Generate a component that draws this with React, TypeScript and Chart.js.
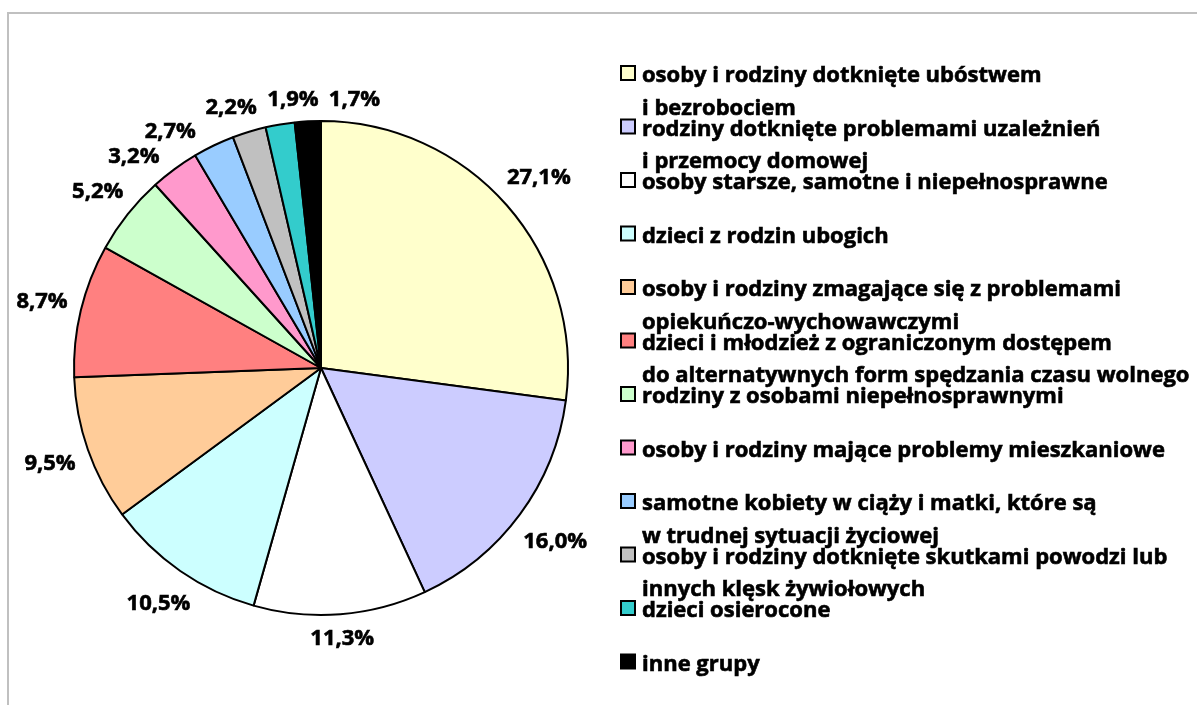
import React, { useEffect, useRef } from "react";
import { Chart, registerables } from "chart.js";

Chart.register(...registerables);

// ---- data ----
const categories: string[][] = [
  ["osoby i rodziny dotknięte ubóstwem", "i bezrobociem"],
  ["rodziny dotknięte problemami uzależnień", "i przemocy domowej"],
  ["osoby starsze, samotne i niepełnosprawne"],
  ["dzieci z rodzin ubogich"],
  ["osoby i rodziny zmagające się z problemami", "opiekuńczo-wychowawczymi"],
  ["dzieci i młodzież z ograniczonym dostępem", "do alternatywnych form spędzania czasu wolnego"],
  ["rodziny z osobami niepełnosprawnymi"],
  ["osoby i rodziny mające problemy mieszkaniowe"],
  ["samotne kobiety w ciąży i matki, które są", "w trudnej sytuacji życiowej"],
  ["osoby i rodziny dotknięte skutkami powodzi lub", "innych klęsk żywiołowych"],
  ["dzieci osierocone"],
  ["inne grupy"],
];
const shares: number[] = [27.1, 16.0, 11.3, 10.5, 9.5, 8.7, 5.2, 3.2, 2.7, 2.2, 1.9, 1.7];
const colors: string[] = [
  "#FFFFCC", "#CCCCFF", "#FFFFFF", "#CCFFFF", "#FFCC99", "#FF8080",
  "#CCFFCC", "#FF99CC", "#99CCFF", "#C0C0C0", "#33CCCC", "#000000",
];

// ---- styles ----
const FONT_FAMILY = "'Open Sans', Lato, sans-serif";
const LABEL_FONT = `bold 22px ${FONT_FAMILY}`;
const LEGEND_FONT = `bold 22px ${FONT_FAMILY}`;
const LABEL_PAD = 13;
const TEXT_STROKE = 0.6;

const fmt = (v: number) => v.toFixed(1).replace(".", ",") + "%";

const boldText = (ctx: CanvasRenderingContext2D, s: string, x: number, y: number) => {
  ctx.fillText(s, x, y);
  ctx.strokeText(s, x, y);
};

const framePlugin = {
  id: "frame",
  beforeDraw(chart: any) {
    const { ctx, width, height } = chart;
    ctx.save();
    ctx.fillStyle = "#FFFFFF";
    ctx.fillRect(0, 0, width, height);
    ctx.strokeStyle = "#C0C0C0";
    ctx.lineWidth = 2;
    ctx.strokeRect(8, 13, width + 50, height + 50);
    ctx.restore();
  },
};

const outsideLabels = {
  id: "outsideLabels",
  afterDatasetsDraw(chart: any) {
    const ctx = chart.ctx;
    const meta = chart.getDatasetMeta(0);
    ctx.save();
    ctx.font = LABEL_FONT;
    const items = meta.data.map((arc: any, i: number) => {
      const p = arc.getProps(["x", "y", "startAngle", "endAngle", "outerRadius"], true);
      const text = fmt(shares[i]);
      const w = ctx.measureText(text).width;
      return { text, w, h: 17, a: (p.startAngle + p.endAngle) / 2, cx: p.x, cy: p.y, r: p.outerRadius };
    });
    const pos = (it: any) => {
      const dx = Math.cos(it.a);
      const dy = Math.sin(it.a);
      const d = it.r + LABEL_PAD + (Math.abs(dx) * it.w) / 2 + (Math.abs(dy) * it.h) / 2;
      return { x: it.cx + dx * d, y: it.cy + dy * d };
    };
    const rel = (a: number) => {
      let r = a + Math.PI / 2;
      while (r > Math.PI) r -= 2 * Math.PI;
      while (r <= -Math.PI) r += 2 * Math.PI;
      return r;
    };
    const order = items.map((_: any, i: number) => i).sort((i: number, j: number) => rel(items[i].a) - rel(items[j].a));
    for (let iter = 0; iter < 400; iter++) {
      let moved = false;
      for (let k = 0; k < order.length - 1; k++) {
        const A = items[order[k]];
        const B = items[order[k + 1]];
        const pa = pos(A);
        const pb = pos(B);
        const ox = Math.abs(pa.x - pb.x) < (A.w + B.w) / 2 + 10;
        const oy = Math.abs(pa.y - pb.y) < 24;
        if (ox && oy) {
          A.a -= 0.003;
          B.a += 0.003;
          moved = true;
        }
      }
      if (!moved) break;
    }
    ctx.fillStyle = "#000000";
    ctx.strokeStyle = "#000000";
    ctx.lineWidth = TEXT_STROKE;
    ctx.textAlign = "center";
    ctx.textBaseline = "middle";
    items.forEach((it: any) => {
      const p = pos(it);
      boldText(ctx, it.text, p.x, p.y + 1);
    });
    ctx.restore();
  },
};

const legendPlugin = {
  id: "customLegend",
  afterDraw(chart: any) {
    const ctx = chart.ctx;
    const boxX = 621;
    const textX = 642;
    const firstBase = 82;
    const pitch = 53.5;
    const lineGap = 32.5;
    ctx.save();
    ctx.font = LEGEND_FONT;
    ctx.textAlign = "left";
    ctx.textBaseline = "alphabetic";
    categories.forEach((lines, i) => {
      const base = firstBase + i * pitch;
      ctx.fillStyle = colors[i];
      ctx.fillRect(boxX, base - 16, 14, 14);
      ctx.strokeStyle = "#000000";
      ctx.lineWidth = 2;
      ctx.strokeRect(boxX, base - 16, 14, 14);
      ctx.fillStyle = "#000000";
      ctx.lineWidth = TEXT_STROKE;
      lines.forEach((ln, k) => {
        boldText(ctx, ln, textX, base + k * lineGap);
      });
    });
    ctx.restore();
  },
};

export default function App() {
  const ref = useRef<HTMLCanvasElement | null>(null);
  useEffect(() => {
    if (!ref.current) return;
    const chart = new Chart(ref.current, {
      type: "pie",
      data: {
        labels: categories.map((c) => c.join(" ")),
        datasets: [
          {
            data: shares,
            backgroundColor: colors,
            borderColor: "#000000",
            borderWidth: 2,
          },
        ],
      },
      options: {
        responsive: false,
        animation: false,
        layout: { padding: { left: 73, right: 628, top: 120, bottom: 89 } },
        plugins: {
          legend: { display: false },
          tooltip: { enabled: false },
        },
      },
      plugins: [framePlugin, outsideLabels, legendPlugin],
    });
    return () => chart.destroy();
  }, []);
  return (
    <div style={{ position: "fixed", left: 0, top: 0, width: 1197, height: 705, background: "#fff" }}>
      <canvas ref={ref} width={1197} height={705} style={{ display: "block" }} />
    </div>
  );
}
